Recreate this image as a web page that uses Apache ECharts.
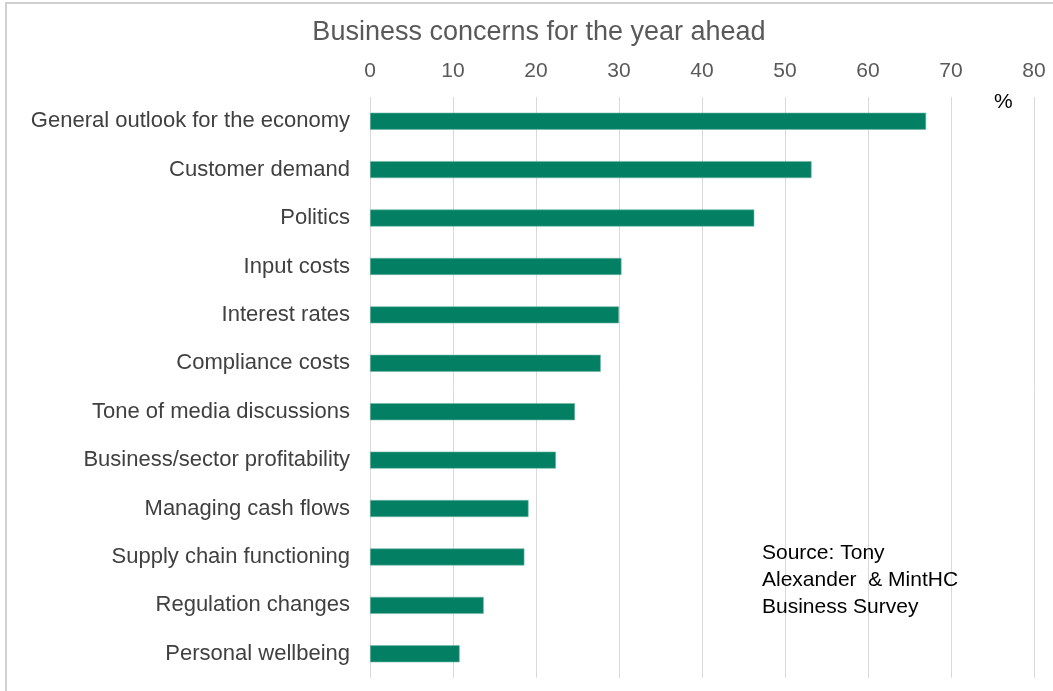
<!DOCTYPE html>
<html>
<head>
<meta charset="utf-8">
<script src="https://cdn.jsdelivr.net/npm/echarts@6/dist/echarts.min.js"></script>
<style>
  html, body { margin: 0; padding: 0; background: #fff; }
  #chart { width: 1053px; height: 691px; }
</style>
</head>
<body>
<div id="chart"></div>
<script>
// Share of businesses citing each concern (%)
const categories = [
  'General outlook for the economy',
  'Customer demand',
  'Politics',
  'Input costs',
  'Interest rates',
  'Compliance costs',
  'Tone of media discussions',
  'Business/sector profitability',
  'Managing cash flows',
  'Supply chain functioning',
  'Regulation changes',
  'Personal wellbeing'
];
const values = [67.0, 53.2, 46.3, 30.3, 30.0, 27.8, 24.7, 22.4, 19.1, 18.6, 13.7, 10.8];
const xTicks = { min: 0, max: 80, interval: 10 };

const FONT = '"Liberation Sans", Arial, sans-serif';

const chart = echarts.init(document.getElementById('chart'), null, { renderer: 'canvas' });
chart.setOption({
  animation: false,
  backgroundColor: '#ffffff',
  title: [
    {
      text: 'Business concerns for the year ahead',
      left: 534, top: 14, textAlign: 'center',
      textStyle: { fontFamily: FONT, fontSize: 27, fontWeight: 'normal', color: '#595959' }
    },
    {
      text: 'Source: Tony\nAlexander  & MintHC\nBusiness Survey',
      left: 757, top: 535,
      textStyle: { fontFamily: FONT, fontSize: 21, fontWeight: 'normal', color: '#000000', lineHeight: 27 }
    }
  ],
  graphic: [
    {
      type: 'rect', silent: true,
      shape: { x: 6, y: 3, width: 1100, height: 800 },
      style: { fill: 'none', stroke: '#d0d0d0', lineWidth: 2 }
    },
    {
      type: 'text', left: 994, top: 92, silent: true,
      style: { text: '%', fontFamily: FONT, fontSize: 21, fill: '#000000' }
    }
  ],
  grid: { left: 370, right: 19, top: 97, bottom: 13, containLabel: false },
  xAxis: {
    type: 'value', position: 'top',
    min: xTicks.min, max: xTicks.max, interval: xTicks.interval,
    axisLine: { show: false }, axisTick: { show: false },
    axisLabel: { fontFamily: FONT, fontSize: 21, color: '#595959', margin: 15 },
    splitLine: { show: true, lineStyle: { color: '#d9d9d9', width: 1 } }
  },
  yAxis: {
    type: 'category', inverse: true, data: categories,
    axisLine: { show: false }, axisTick: { show: false },
    axisLabel: { fontFamily: FONT, fontSize: 22, color: '#404040', margin: 20 }
  },
  series: [{
    type: 'bar', data: values, barWidth: 17,
    itemStyle: { color: '#037f64', borderColor: '#6fb8a6', borderWidth: 0.6 }
  }]
});
</script>
</body>
</html>
